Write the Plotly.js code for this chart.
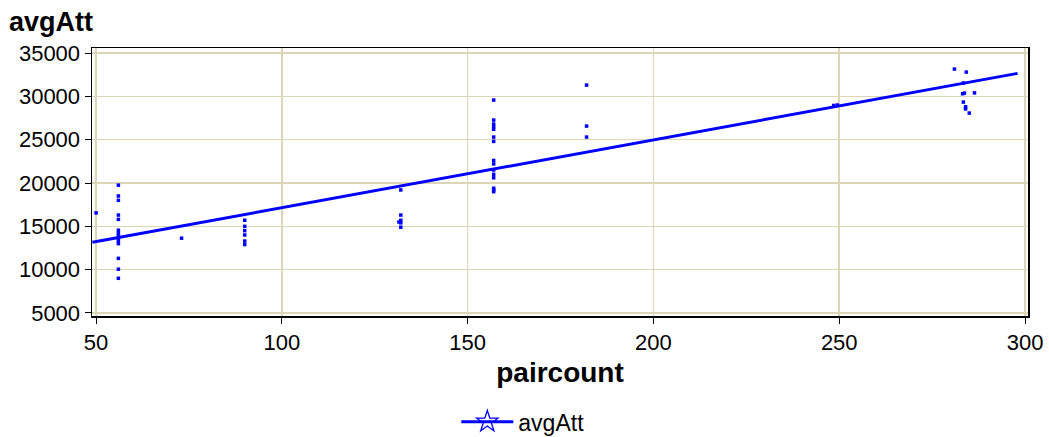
<!DOCTYPE html>
<html>
<head>
<meta charset="utf-8">
<script src="https://cdn.plot.ly/plotly-3.0.1.min.js"></script>
<style>html,body{margin:0;padding:0;background:#fff;}#chart{width:1049px;height:437px;}</style>
</head>
<body>
<div id="chart"></div>
<script>
// Observed points (paircount, avgAtt)
const pairX = [
  50,
  56,56,56,56,56,56,56,56,56,56,56,56,56,56,
  73,
  90,90,90,90,90,90,
  132,132,132,132,132,131.5,
  157,157,157,157,157,157,157,157,157,157,157,157,157,157,157,
  182,182,182,
  248.5,249.5,
  281,284.2,283.4,283.7,283.2,286.4,283.4,284,284,285
];
const avgAtt = [
  16550,
  19750,18500,18000,16300,15800,14550,14200,13900,13600,13300,13000,11300,10050,9000,
  13630,
  15700,15000,14500,14000,13300,12900,
  19200,16300,15700,15400,14900,15500,
  29570,27260,26800,26500,26200,25300,24800,22600,22200,21500,21000,20600,19400,19200,19000,
  31300,26570,25300,
  28950,29000,
  33150,32800,31540,30380,30300,30400,29340,28800,28550,28070
];
// Fitted regression line endpoints
const fitX = [49, 298];
const fitY = [13150, 32650];
const seriesName = 'avgAtt';
const xTitle = 'paircount';
const yTitle = 'avgAtt';
const xTicks = [50, 100, 150, 200, 250, 300];
const yTicks = [5000, 10000, 15000, 20000, 25000, 30000, 35000];

const blue = '#0000ff';
const grid = '#ddd5b8';
const font = 'Arial, "Liberation Sans", sans-serif';

const traces = [
  {x: pairX, y: avgAtt, type: 'scatter', mode: 'markers', showlegend: false,
   marker: {color: blue, size: 3.5, symbol: 'square'}, hoverinfo: 'x+y'},
  {x: fitX, y: fitY, type: 'scatter', mode: 'lines', showlegend: false,
   line: {color: blue, width: 3}},
  {x: [0], y: [0], type: 'scatter', mode: 'lines+markers', name: seriesName,
   line: {color: blue, width: 3},
   marker: {color: blue, size: 18, symbol: 'star-open', line: {color: blue, width: 1.3}}}
];

const layout = {
  width: 1049, height: 437,
  margin: {l: 92, r: 21, t: 48, b: 121, autoexpand: false},
  paper_bgcolor: '#fff', plot_bgcolor: '#fff',
  font: {family: font, color: '#000', size: 22},
  showlegend: true,
  annotations: [{
    text: '<b>' + yTitle + '</b>', xref: 'paper', yref: 'paper',
    x: 0, y: 1, xanchor: 'left', yanchor: 'bottom', xshift: -85, yshift: 9,
    showarrow: false, font: {family: font, size: 27, color: '#000'}
  }],
  xaxis: {
    range: [48.9, 300.8], tickvals: xTicks, ticktext: xTicks.map(String),
    showgrid: true, gridcolor: grid, gridwidth: 1.5, zeroline: false,
    showline: true, linecolor: '#000', linewidth: 1.5, mirror: true,
    ticks: 'outside', ticklen: 6, tickcolor: '#000',
    tickfont: {family: font, size: 22, color: '#000'},
    title: {text: '<b>' + xTitle + '</b>', font: {family: font, size: 28, color: '#000'}, standoff: 8}
  },
  yaxis: {
    range: [4650, 35580], tickvals: yTicks, ticktext: yTicks.map(String),
    showgrid: true, gridcolor: grid, gridwidth: 1.5, zeroline: false,
    showline: true, linecolor: '#000', linewidth: 1.5, mirror: true,
    ticks: 'outside', ticklen: 6, tickcolor: '#000',
    tickfont: {family: font, size: 22, color: '#000'}
  },
  legend: {
    orientation: 'h', xref: 'container', yref: 'container',
    x: 0.435, xanchor: 'left', y: 0.035, yanchor: 'middle',
    itemwidth: 52,
    font: {family: font, size: 23, color: '#000'},
    bgcolor: 'rgba(0,0,0,0)'
  }
};

Plotly.newPlot('chart', traces, layout, {displayModeBar: false, staticPlot: true});
</script>
</body>
</html>
